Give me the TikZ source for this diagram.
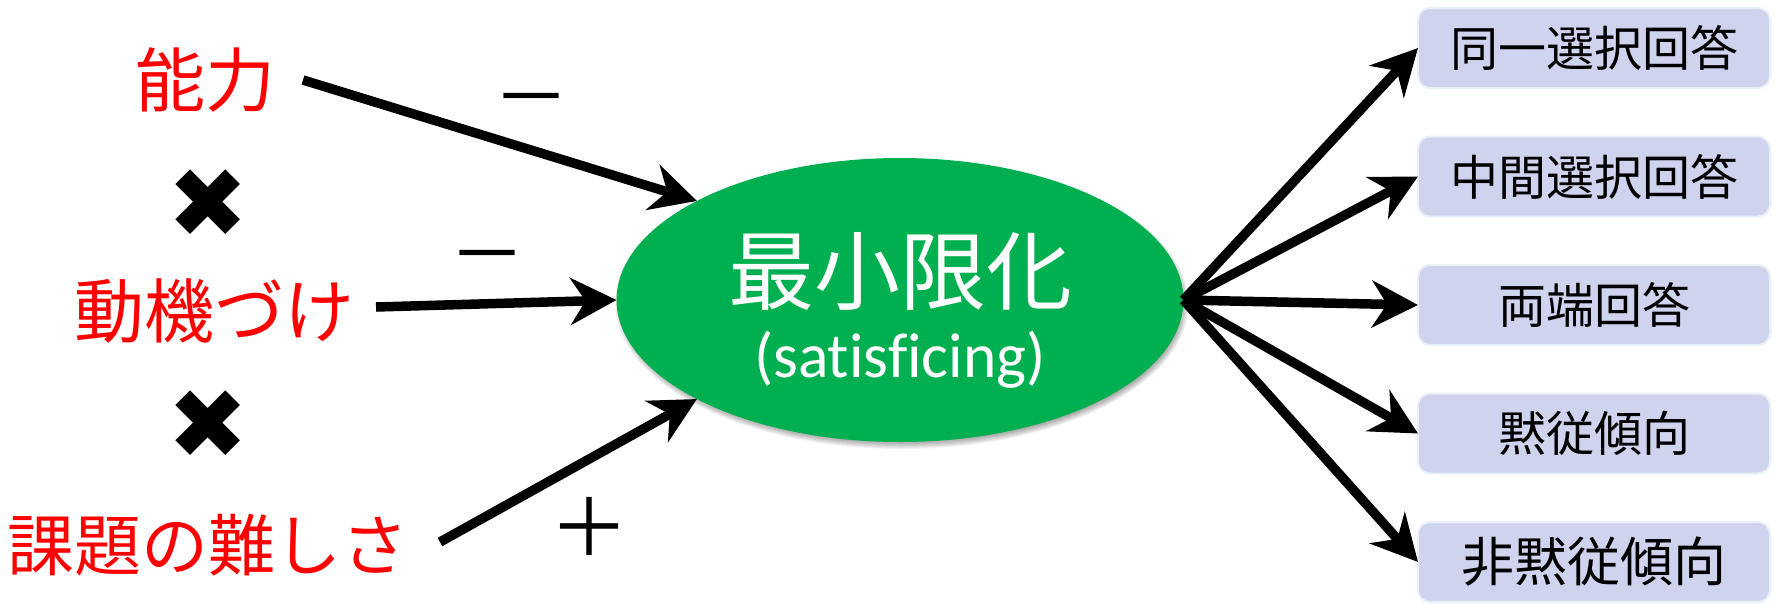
\documentclass[tikz,border=0pt]{standalone}
\usepackage{fontspec}
\newfontfamily\jpfont{Noto Sans CJK JP}
\newfontfamily\symfont{DejaVu Sans}
\newfontfamily\latfont[Ligatures=NoCommon]{Carlito}
\usetikzlibrary{shapes.geometric,arrows.meta}
\definecolor{redtxt}{HTML}{FF0000}
\definecolor{satgreen}{HTML}{00B050}
\definecolor{boxfill}{HTML}{D0D3EE}
\definecolor{boxedge}{HTML}{E8F0F8}
\tikzset{
  factor/.style={inner sep=0pt, outer sep=0pt, text=redtxt, font=\jpfont\fontsize{70}{80}\selectfont},
  times/.style={inner sep=0pt, outer sep=0pt, font=\symfont\fontsize{97}{100}\selectfont},
  sign/.style={inner sep=0pt, outer sep=0pt, font=\jpfont\fontsize{76}{80}\selectfont},
  resp/.style={rounded corners=12pt, fill=boxfill, draw=boxedge, line width=2pt,
    minimum width=352pt, minimum height=80pt, inner sep=0pt, outer sep=0pt,
    font=\jpfont\fontsize{48}{56}\selectfont},
  arr/.style={line width=9.5pt, -{Stealth[length=46pt, width=47pt, inset=15pt]}},
}
\begin{document}
\begin{tikzpicture}[x=1pt, y=-1pt]
\useasboundingbox (0,0) rectangle (1775,603);
% soft shadow of the central ellipse
\foreach \i in {0,...,7}
  \fill[black, opacity=0.05] (902,304) ellipse [x radius={279.5+\i}, y radius={138+\i}];
% central ellipse
\node[ellipse, fill=satgreen, minimum width=567pt, minimum height=284pt, inner sep=0pt, outer sep=0pt] (sat) at (900,300) {};
\node[inner sep=0pt, text=white, font=\jpfont\fontsize{86}{90}\selectfont] (satjp) at (900,271) {最小限化};
\node[inner sep=0pt, text=white, font=\latfont\fontsize{63.5}{66}\selectfont] (saten) at (900,360) {(satisficing)};
% left factors
\node[factor] (abil) at (205,80) {能力};
\node[times] (x1) at (208,204) {✖};
\node[factor] (moti) at (214,311) {動機づけ};
\node[times] (x2) at (208,425) {✖};
\node[factor, font=\jpfont\fontsize{67}{76}\selectfont] (diff) at (208,545) {課題の難しさ};
% signs
\node[sign] (s1) at (531,109) {－};
\node[sign] (s2) at (487,266) {－};
\node[sign, font=\jpfont\fontsize{80}{84}\selectfont] (s3) at (589,527) {＋};
% right boxes
\node[resp] (b1) at (1594,48) {同一選択回答};
\node[resp] (b2) at (1594,176.5) {中間選択回答};
\node[resp] (b3) at (1594,305) {両端回答};
\node[resp] (b4) at (1594,433.5) {黙従傾向};
\node[resp, font=\jpfont\fontsize{53}{60}\selectfont] (b5) at (1594,562) {非黙従傾向};
% arrows in
\draw[arr] ([xshift=28pt]abil.east) -- (sat.154.5);
\draw[arr] ([xshift=22pt,yshift=4pt]moti.east) -- (sat.180);
\draw[arr] ([xshift=31pt,yshift=3pt]diff.east) -- (sat.206.5);
% arrows out
\draw[arr] (sat.east) -- (b1.west);
\draw[arr] (sat.east) -- (b2.west);
\draw[arr] (sat.east) -- (b3.west);
\draw[arr] (sat.east) -- (b4.west);
\draw[arr] (sat.east) -- (b5.west);
\end{tikzpicture}
\end{document}
